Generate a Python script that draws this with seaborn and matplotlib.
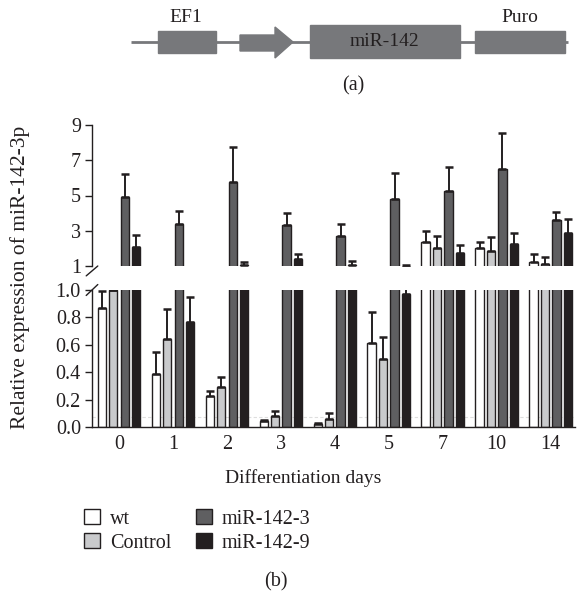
import numpy as np
import pandas as pd
import matplotlib
matplotlib.use("Agg")
import matplotlib.pyplot as plt
import seaborn as sns
from matplotlib.patches import Rectangle, Polygon, Patch

# ---- data ----
days = ["0", "1", "2", "3", "4", "5", "7", "10", "14"]
groups = ["wt", "Control", "miR-142-3", "miR-142-9"]

wt_mean = [0.87, 0.39, 0.225, 0.044, 0.025, 0.61, 2.38, 2.0, 1.21]
wt_err = [0.12, 0.16, 0.04, 0.01, 0.005, 0.23, 0.62, 0.38, 0.47]
ctrl_mean = [1.0, 0.64, 0.295, 0.081, 0.062, 0.50, 2.0, 1.83, 1.13]
ctrl_err = [0.0, 0.22, 0.073, 0.037, 0.041, 0.16, 0.70, 0.80, 0.36]
mir3_mean = [4.9, 3.38, 5.78, 3.33, 2.72, 4.78, 5.24, 6.52, 3.59]
mir3_err = [1.3, 0.76, 1.99, 0.69, 0.66, 1.48, 1.39, 2.04, 0.49]
mir9_mean = [2.1, 0.77, 1.06, 1.38, 1.05, 0.97, 1.72, 2.25, 2.89]
mir9_err = [0.66, 0.18, 0.18, 0.30, 0.25, 0.08, 0.49, 0.60, 0.76]

colors = ["#ffffff", "#c9cacc", "#5f5f61", "#231f20"]

df = pd.DataFrame({
    "day": days * 4,
    "group": np.repeat(groups, len(days)),
    "value": wt_mean + ctrl_mean + mir3_mean + mir9_mean,
    "err": wt_err + ctrl_err + mir3_err + mir9_err,
})

sns.set_theme(style="ticks")
plt.rcParams["font.family"] = ["Liberation Serif", "DejaVu Serif"]
plt.rcParams["axes.linewidth"] = 1.0

W, H = 578, 597
fig = plt.figure(figsize=(W / 100, H / 100), dpi=100)
fig.patch.set_facecolor("white")


def frac(x0, y0, x1, y1):
    # pixel box (top-left origin) -> figure fraction rect
    return [x0 / W, 1 - y1 / H, (x1 - x0) / W, (y1 - y0) / H]


ax_up = fig.add_axes(frac(92, 125, 575, 266))
ax_lo = fig.add_axes(frac(92, 290, 575, 427))

ink = "#231f20"
for ax, floor in ((ax_up, 1.0), (ax_lo, None)):
    sns.barplot(data=df, x="day", y="value", hue="group", order=days,
                hue_order=groups, palette=colors, width=0.85, gap=0.28,
                errorbar=None, edgecolor=ink, linewidth=1.0, saturation=1,
                legend=False, ax=ax)
    for cont, g in zip(ax.containers, groups):
        sub = df[df["group"] == g].set_index("day").loc[days]
        xs = np.array([b.get_x() + b.get_width() / 2 for b in cont])
        keep = np.ones(len(days), bool)
        if floor is not None:
            # upper panel: only marks that actually reach above the break
            for b in cont:
                if b.get_height() <= floor:
                    b.set_visible(False)
            keep = (sub["value"] + sub["err"]).values > floor + 0.01
        ax.errorbar(xs[keep], sub["value"].values[keep],
                    yerr=[np.zeros(keep.sum()), sub["err"].values[keep]],
                    fmt="none", ecolor=ink, elinewidth=1.4, capsize=2.6,
                    capthick=1.8, zorder=3)
    ax.set_xlim(-0.5, 8.45)
    ax.set_xlabel("")
    ax.set_ylabel("")
    sns.despine(ax=ax)
    ax.tick_params(axis="y", length=5, width=1.0, labelsize=14.5, color=ink,
                   labelcolor=ink, pad=3)

ax_up.set_ylim(1, 9)
ax_up.set_yticks([1, 3, 5, 7, 9])
ax_up.spines["bottom"].set_visible(False)
ax_up.tick_params(axis="x", bottom=False, labelbottom=False)

ax_lo.set_ylim(0, 1.0)
ax_lo.set_yticks([0, 0.2, 0.4, 0.6, 0.8, 1.0])
ax_lo.set_yticklabels(["0.0", "0.2", "0.4", "0.6", "0.8", "1.0"])
ax_lo.tick_params(axis="x", length=0, labelsize=14.5, labelcolor=ink, pad=6)
ax_lo.axhline(0.075, color="#dedede", lw=0.8, ls=(0, (3, 2)), zorder=0)
for s in ("left", "bottom"):
    ax_up.spines[s].set_color(ink)
    ax_lo.spines[s].set_color(ink)

# axis break marks
ax_up.plot([-0.012, 0.012], [-0.07, 0.0], transform=ax_up.transAxes,
           color=ink, lw=1.0, clip_on=False)
ax_lo.plot([-0.012, 0.012], [0.96, 1.04], transform=ax_lo.transAxes,
           color=ink, lw=1.0, clip_on=False)

fig.text(20 / W, 1 - 277 / H, "Relative expression of miR-142-3p",
         rotation=90, ha="center", va="center", fontsize=15.5, color=ink)
fig.text(303 / W, 1 - 478 / H, "Differentiation days", ha="center",
         va="center", fontsize=14, color=ink)

handles = [Patch(facecolor=c, edgecolor=ink, linewidth=1.0) for c in colors]
fig.legend(handles, groups, ncol=2, frameon=False, fontsize=14.5,
           loc="upper left", bbox_to_anchor=(74 / W, 1 - 499 / H),
           handlelength=0.8, handleheight=0.8, handletextpad=0.5,
           columnspacing=1.2, labelspacing=0.2, borderpad=0,
           labelcolor=ink)

fig.text(276 / W, 1 - 582 / H, "(b)", ha="center", va="center",
         fontsize=14.5, color=ink)

# ---- panel (a): construct schematic ----
ax_a = fig.add_axes(frac(0, 0, W, 100))
ax_a.set_xlim(0, W)
ax_a.set_ylim(100, 0)
ax_a.axis("off")
gray = "#77787b"
ax_a.plot([131, 568], [42, 42], color=gray, lw=2, solid_capstyle="butt")
ax_a.add_patch(Rectangle((158, 31), 58, 22, color=gray))
ax_a.add_patch(Polygon([(240, 35), (275, 35), (275, 27), (293, 42),
                        (275, 58), (275, 51), (240, 51)], color=gray))
ax_a.add_patch(Rectangle((310, 25), 150, 33, color=gray))
ax_a.add_patch(Rectangle((475, 31), 90, 22, color=gray))
ax_a.text(186, 17, "EF1", ha="center", va="center", fontsize=14, color=ink)
ax_a.text(520, 17, "Puro", ha="center", va="center", fontsize=14, color=ink)
ax_a.text(385, 42, "miR-142", ha="center", va="center", fontsize=14,
          color=ink)
ax_a.text(353, 86, "(a)", ha="center", va="center", fontsize=14.5, color=ink)

fig.savefig("out.png", dpi=100, facecolor="white")
